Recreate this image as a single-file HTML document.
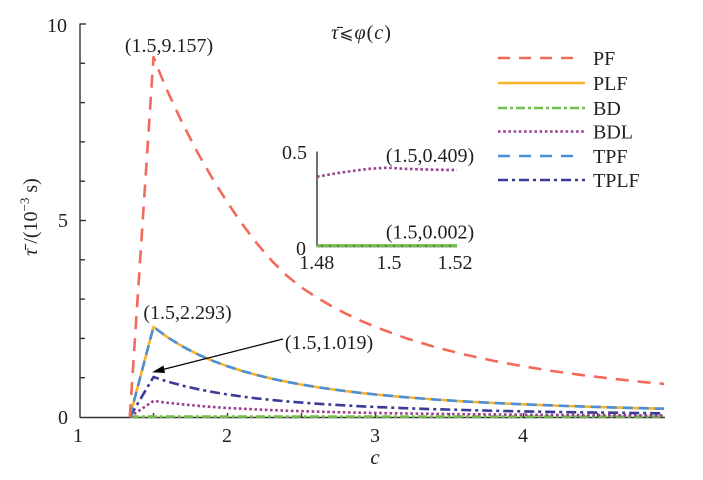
<!DOCTYPE html>
<html>
<head>
<meta charset="utf-8">
<style>
html,body{margin:0;padding:0;background:#fff;}
svg{display:block;}
text{font-family:"Liberation Serif","DejaVu Serif",serif;fill:#231f20;}
</style>
</head>
<body>
<svg width="703" height="480" viewBox="0 0 703 480" xmlns="http://www.w3.org/2000/svg">
<rect width="703" height="480" fill="#fff"/>

<!-- main axes -->
<g stroke="#333" stroke-width="1.4" fill="none">
  <line x1="80" y1="23.5" x2="80" y2="417.5"/>
  <line x1="80" y1="417.5" x2="665" y2="417.5"/>
  <line x1="80" y1="24" x2="86" y2="24"/>
  <line x1="80" y1="63.3" x2="85" y2="63.3"/>
  <line x1="80" y1="102.6" x2="85" y2="102.6"/>
  <line x1="80" y1="141.9" x2="85" y2="141.9"/>
  <line x1="80" y1="181.2" x2="85" y2="181.2"/>
  <line x1="80" y1="220.5" x2="86" y2="220.5"/>
  <line x1="80" y1="259.8" x2="85" y2="259.8"/>
  <line x1="80" y1="299.1" x2="85" y2="299.1"/>
  <line x1="80" y1="338.4" x2="85" y2="338.4"/>
  <line x1="80" y1="377.7" x2="85" y2="377.7"/>
  <line x1="153.5" y1="417.5" x2="153.5" y2="413"/>
  <line x1="227.5" y1="417.5" x2="227.5" y2="413"/>
  <line x1="301.5" y1="417.5" x2="301.5" y2="413"/>
  <line x1="375.5" y1="417.5" x2="375.5" y2="413"/>
  <line x1="449.5" y1="417.5" x2="449.5" y2="413"/>
  <line x1="523.5" y1="417.5" x2="523.5" y2="413"/>
  <line x1="597.5" y1="417.5" x2="597.5" y2="413"/>
</g>

<!-- tick labels -->
<g font-size="20">
  <text x="67" y="32" text-anchor="end">10</text>
  <text x="68" y="227" text-anchor="end">5</text>
  <text x="68" y="424" text-anchor="end">0</text>
  <text x="78" y="442" text-anchor="middle">1</text>
  <text x="227" y="442" text-anchor="middle">2</text>
  <text x="375" y="442" text-anchor="middle">3</text>
  <text x="523" y="442" text-anchor="middle">4</text>
</g>
<text x="375" y="464" font-size="21" font-style="italic" text-anchor="middle">c</text>
<text transform="translate(37,217) rotate(-90)" font-size="20" text-anchor="middle"><tspan font-style="italic">τ̄</tspan> /(10<tspan font-size="13" dy="-8">−3</tspan><tspan dy="8"> s)</tspan></text>

<g fill="none" stroke-width="2.6" stroke-linejoin="round">
<!-- BD -->
<polyline stroke="#72be4a" stroke-dasharray="9 3 3 3" points="129.8,416.6 664.1,416.6"/>
<!-- BDL -->
<polyline stroke="#9a3f90" stroke-dasharray="2.6 2.6" points="129.8,417 153.5,400.9 168.3,402.9 183.1,404.4 197.9,405.8 212.7,407 227.5,408 257.1,409.5 286.7,410.7 316.3,411.6 345.9,412.4 375.5,413 419.9,413.7 464.3,414.2 523.5,414.7 582.7,415.1 664.1,415.5"/>
<!-- TPLF -->
<polyline stroke="#3b3a96" stroke-dasharray="10 4 3 4" points="129.8,417 153.5,377 168.3,381.8 183.1,385.8 197.9,389.2 212.7,392 227.5,394.5 242.3,396.6 257.1,398.4 271.9,400 286.7,401.4 316.3,403.7 345.9,405.5 375.5,407 405.1,408.2 434.7,409.2 464.3,410 493.9,410.8 523.5,411.4 553.1,411.9 582.7,412.4 612.3,412.7 641.9,413.1 664.1,413.3"/>
<!-- PLF -->
<polyline stroke="#f7b32b" points="129.8,417 153.5,326.9 168.3,337.8 183.1,346.8 197.9,354.4 212.7,360.8 227.5,366.3 242.3,371 257.1,375.1 271.9,378.7 286.7,381.8 301.5,384.6 316.3,387 331.1,389.2 345.9,391.1 360.7,392.9 375.5,394.5 405.1,397.2 434.7,399.5 464.3,401.4 493.9,403 523.5,404.3 553.1,405.5 582.7,406.5 612.3,407.4 641.9,408.2 664.1,408.7"/>
<!-- TPF -->
<polyline stroke="#4a8fd8" stroke-dasharray="10 6" points="129.8,417 153.5,326.9 168.3,337.8 183.1,346.8 197.9,354.4 212.7,360.8 227.5,366.3 242.3,371 257.1,375.1 271.9,378.7 286.7,381.8 301.5,384.6 316.3,387 331.1,389.2 345.9,391.1 360.7,392.9 375.5,394.5 405.1,397.2 434.7,399.5 464.3,401.4 493.9,403 523.5,404.3 553.1,405.5 582.7,406.5 612.3,407.4 641.9,408.2 664.1,408.7"/>
<!-- PF -->
<polyline stroke="#f26a5a" stroke-dasharray="13 9" points="129.8,417 153.5,57.1 160.9,75.6 168.3,93 183.1,124.6 197.9,153.1 212.7,179 227.5,202.6 242.3,224.2 257.1,243.7 271.9,260.9 286.7,275.6 301.5,287.5 316.3,297.2 331.1,305.9 345.9,313.7 360.7,320.7 375.5,327 405.1,337.9 434.7,347 464.3,354.5 493.9,360.9 523.5,366.4 553.1,371.1 582.7,375.2 612.3,378.7 641.9,381.9 664.1,383.9"/>
</g>

<!-- annotations -->
<g font-size="20">
  <text x="169" y="52" text-anchor="middle">(1.5,9.157)</text>
  <text x="187.5" y="319" text-anchor="middle">(1.5,2.293)</text>
  <text x="329" y="349" text-anchor="middle">(1.5,1.019)</text>
</g>
<line x1="283" y1="339" x2="161" y2="370" stroke="#000" stroke-width="1.3"/>
<polygon points="152,372.3 163.5,365.5 165,373" fill="#000"/>

<!-- title -->
<text x="361.5" y="39" font-size="20" text-anchor="middle" font-style="italic" letter-spacing="1">τ̄<tspan font-style="normal" font-family="DejaVu Sans, sans-serif" font-size="17">⩽</tspan>φ<tspan font-style="normal">(</tspan>c<tspan font-style="normal">)</tspan></text>

<!-- inset -->
<g stroke="#333" stroke-width="1.4" fill="none">
  <line x1="317" y1="151.5" x2="317" y2="246.5"/>
  <line x1="317" y1="246.5" x2="457" y2="246.5"/>
</g>
<polyline fill="none" stroke="#72be4a" stroke-width="3" points="317,245.6 457,245.6"/>
<polyline fill="none" stroke="#333" stroke-width="1.2" stroke-dasharray="1.5 6.5" points="321,245.8 457,245.8"/>
<polyline fill="none" stroke="#9a3f90" stroke-width="2.6" stroke-dasharray="2.6 2.6" points="317,176.7 334.5,173.6 352,171 369.5,168.8 387,167.7 404.5,168.8 422,169.4 439.5,169.8 457,170"/>
<g font-size="20">
  <text x="307" y="159" text-anchor="end">0.5</text>
  <text x="306" y="255" text-anchor="end">0</text>
  <text x="316.7" y="269" text-anchor="middle">1.48</text>
  <text x="389" y="269" text-anchor="middle">1.5</text>
  <text x="455" y="269" text-anchor="middle">1.52</text>
  <text x="430" y="162" text-anchor="middle">(1.5,0.409)</text>
  <text x="430" y="238.5" text-anchor="middle">(1.5,0.002)</text>
</g>

<!-- legend -->
<g stroke-width="2.6" fill="none">
  <line x1="498" y1="58" x2="578" y2="58" stroke="#f26a5a" stroke-dasharray="12 9"/>
  <line x1="498" y1="83" x2="585" y2="83" stroke="#f7b32b"/>
  <line x1="498" y1="108" x2="585" y2="108" stroke="#72be4a" stroke-dasharray="9 3 3 3"/>
  <line x1="498" y1="131.5" x2="585" y2="131.5" stroke="#9a3f90" stroke-dasharray="2.6 2.6"/>
  <line x1="498" y1="156" x2="578" y2="156" stroke="#4a8fd8" stroke-dasharray="12 9"/>
  <line x1="498" y1="180" x2="585" y2="180" stroke="#3b3a96" stroke-dasharray="10 4 3 4"/>
</g>
<g font-size="20">
  <text x="593" y="65">PF</text>
  <text x="593" y="90">PLF</text>
  <text x="593" y="115">BD</text>
  <text x="593" y="138.5">BDL</text>
  <text x="593" y="163">TPF</text>
  <text x="593" y="187">TPLF</text>
</g>
</svg>
</body>
</html>
